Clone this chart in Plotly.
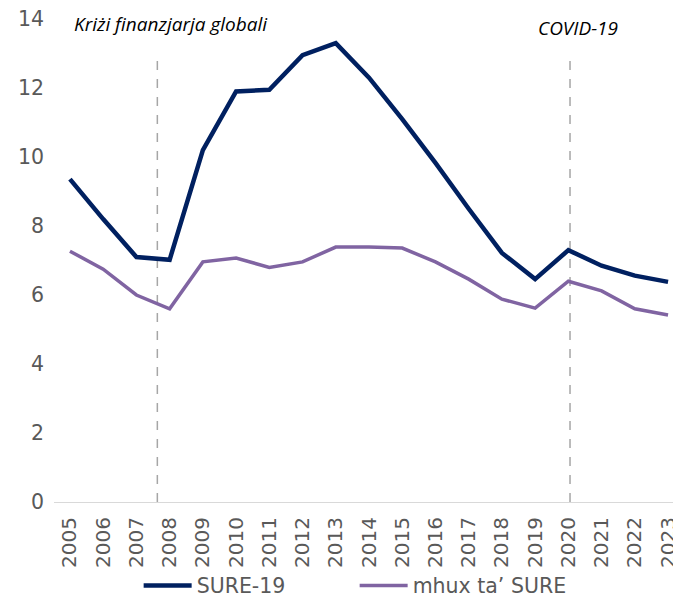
import plotly.graph_objects as go

years = list(range(2005, 2024))
tick_labels = [str(y) for y in years]
sure19 = [9.36, 8.2, 7.1, 7.02, 10.2, 11.9, 11.95, 12.95, 13.3, 12.3, 11.1, 9.83, 8.5, 7.22, 6.46, 7.3, 6.85, 6.56, 6.38]
mhux_sure = [7.27, 6.75, 6.0, 5.6, 6.96, 7.07, 6.8, 6.96, 7.39, 7.39, 7.36, 6.96, 6.46, 5.88, 5.62, 6.4, 6.12, 5.6, 5.42]
event_x = [2007.63, 2020.05]
event_labels = ["Kriżi finanzjarja globali", "COVID-19"]

fig = go.Figure()
fig.add_trace(go.Scatter(x=years, y=sure19, mode="lines", name="SURE-19",
                         line=dict(color="#002060", width=4.5)))
fig.add_trace(go.Scatter(x=years, y=mhux_sure, mode="lines", name="mhux ta’ SURE",
                         line=dict(color="#8064A2", width=3.5)))

for ex in event_x:
    fig.add_shape(type="line", x0=ex, x1=ex, y0=0, y1=13.0, xref="x", yref="y",
                  line=dict(color="#A6A6A6", width=1.5, dash="dash"), layer="below")

fig.add_annotation(x=2005.05, y=13.85, xref="x", yref="y", text=event_labels[0],
                   showarrow=False, xanchor="left", yanchor="middle",
                   font=dict(family="Open Sans", size=19, color="#000000", style="italic"))
fig.add_annotation(x=2020.28, y=13.75, xref="x", yref="y", text=event_labels[1],
                   showarrow=False, xanchor="center", yanchor="middle",
                   font=dict(family="Open Sans", size=19, color="#000000", style="italic"))

fig.update_layout(
    width=673, height=590,
    margin=dict(l=46, r=0, t=11, b=96),
    paper_bgcolor="white", plot_bgcolor="white",
    font=dict(family="DejaVu Sans", size=20, color="#595959"),
    showlegend=True,
    legend=dict(orientation="h", x=0.135, y=0.021, xref="paper", yref="container",
                xanchor="left", yanchor="middle",
                font=dict(family="DejaVu Sans", size=20.5, color="#595959"),
                entrywidth=153, entrywidthmode="pixels", itemwidth=48,
                bgcolor="rgba(0,0,0,0)"),
    xaxis=dict(range=[2004.52, 2023.39], tickmode="array", tickvals=years,
               ticktext=tick_labels, tickangle=-90, showgrid=False,
               showline=True, linecolor="#D9D9D9", linewidth=1, zeroline=False,
               ticks="", ticklabelstandoff=6, automargin=False,
               ticklabeloverflow="allow", fixedrange=True,
               tickfont=dict(size=20)),
    yaxis=dict(range=[0, 14], tickmode="array", tickvals=[0, 2, 4, 6, 8, 10, 12, 14],
               showgrid=False, zeroline=False, showline=False, ticks="",
               ticklabelstandoff=9, automargin=False, ticklabeloverflow="allow",
               tickfont=dict(size=20.5)),
)

fig.write_html("out.html")
